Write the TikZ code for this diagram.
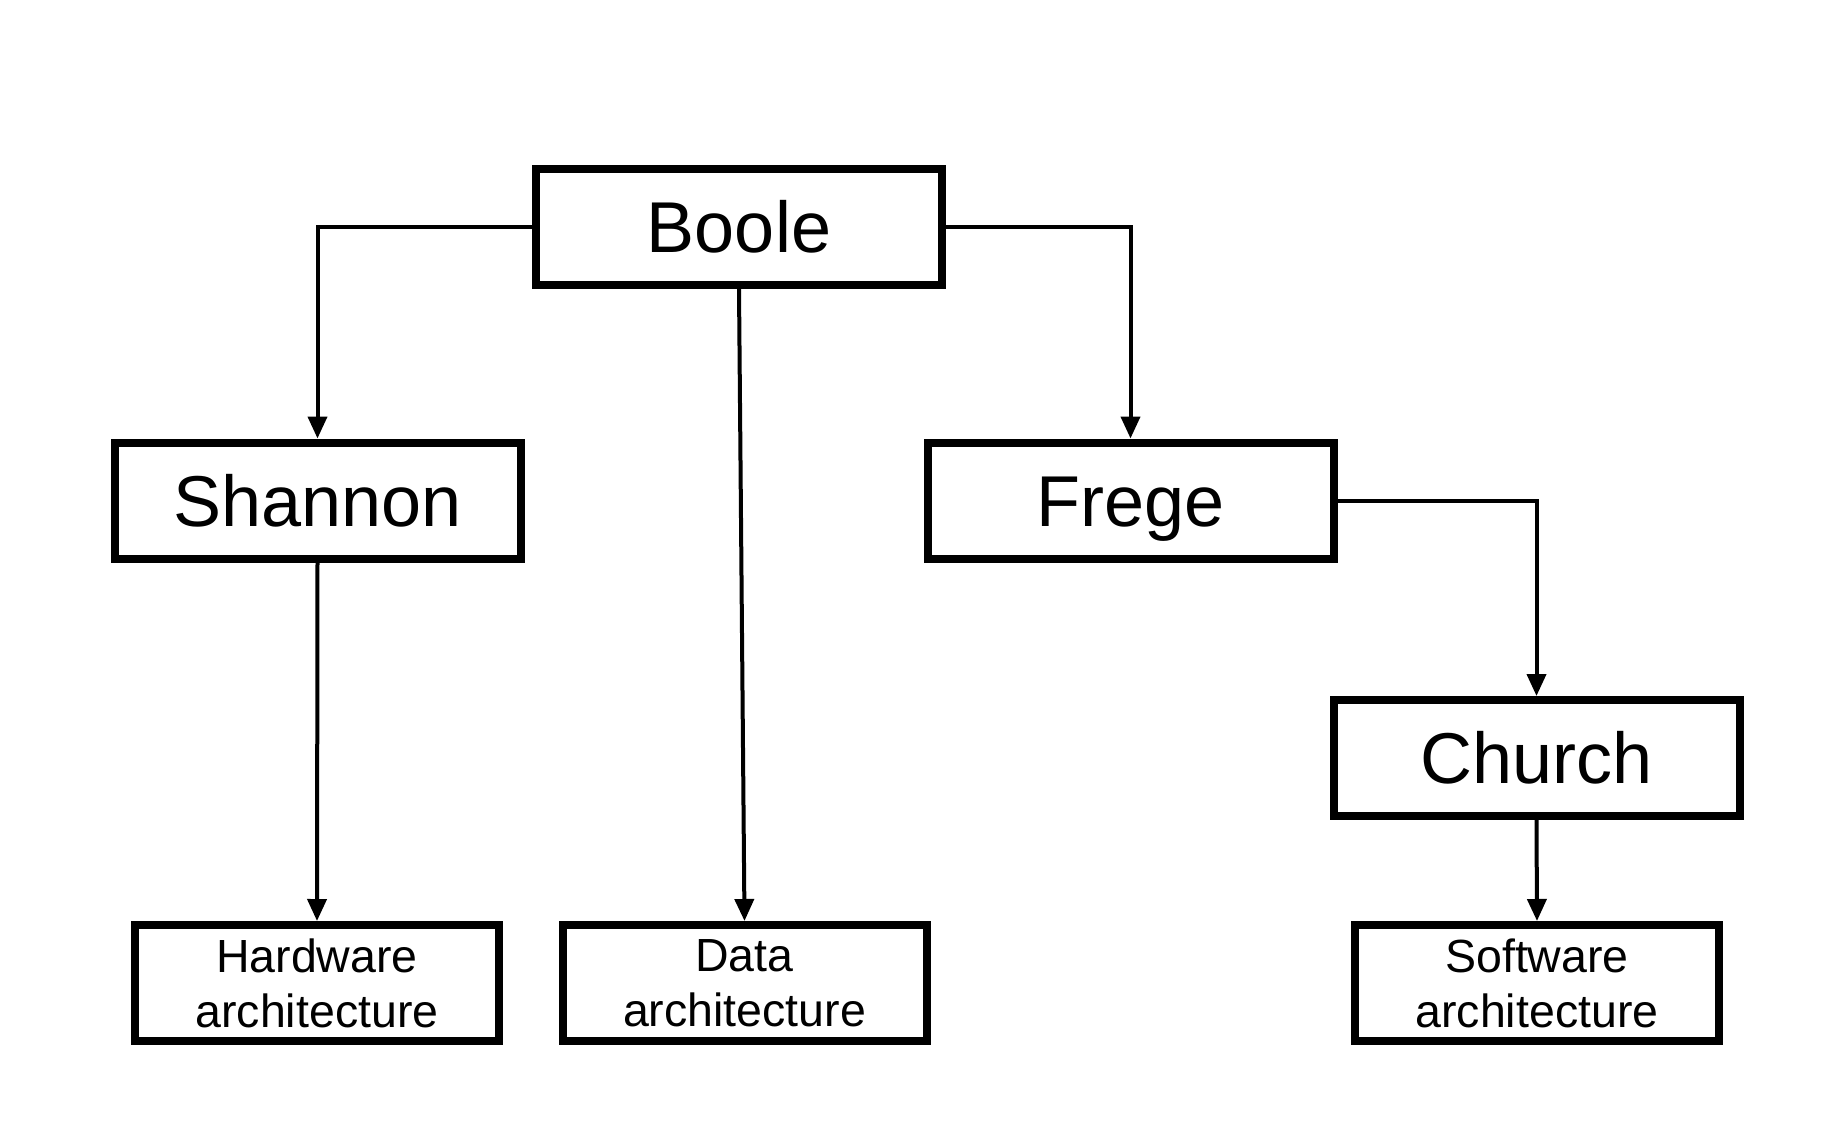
\documentclass[tikz,border=0pt]{standalone}
\usepackage{fontspec}
\setmainfont{Liberation Sans}
\usetikzlibrary{arrows.meta}
\begin{document}
\begin{tikzpicture}[x=1pt,y=-1pt,
  bigbox/.style={draw=black,line width=8pt,minimum width=406pt,minimum height=116pt,inner sep=0pt,
    font=\fontsize{72}{86}\selectfont,text height=51.5pt,text depth=0pt},
  smallbox/.style={draw=black,line width=8pt,minimum width=364pt,minimum height=116pt,inner sep=0pt,
    align=center,font=\fontsize{46.5}{55}\selectfont},
  conn/.style={line width=4pt,-{Triangle[length=22pt,width=19pt]}}]
\useasboundingbox (0,0) rectangle (1840,1132);
\node[bigbox] (boole) at (739,227) {Boole};
\node[bigbox] (shannon) at (317.5,500.5) {Shannon};
\node[bigbox] (frege) at (1130.5,500.5) {Frege};
\node[bigbox] (church) at (1536.5,758) {Church};
\node[smallbox] (hw) at (317,983) {Hardware\\architecture};
\node[smallbox] (data) at (744.5,983) {Data\\architecture};
\node[smallbox] (sw) at (1537,983) {Software\\architecture};
\draw[conn] (boole.west) -| (shannon.north);
\draw[conn] (boole.east) -| (frege.north);
\draw[conn] (boole.south) -- (data.north);
\draw[conn] (shannon.south) -- (hw.north);
\draw[conn] (frege.east) -| (church.north);
\draw[conn] (church.south) -- (sw.north);
\end{tikzpicture}
\end{document}
